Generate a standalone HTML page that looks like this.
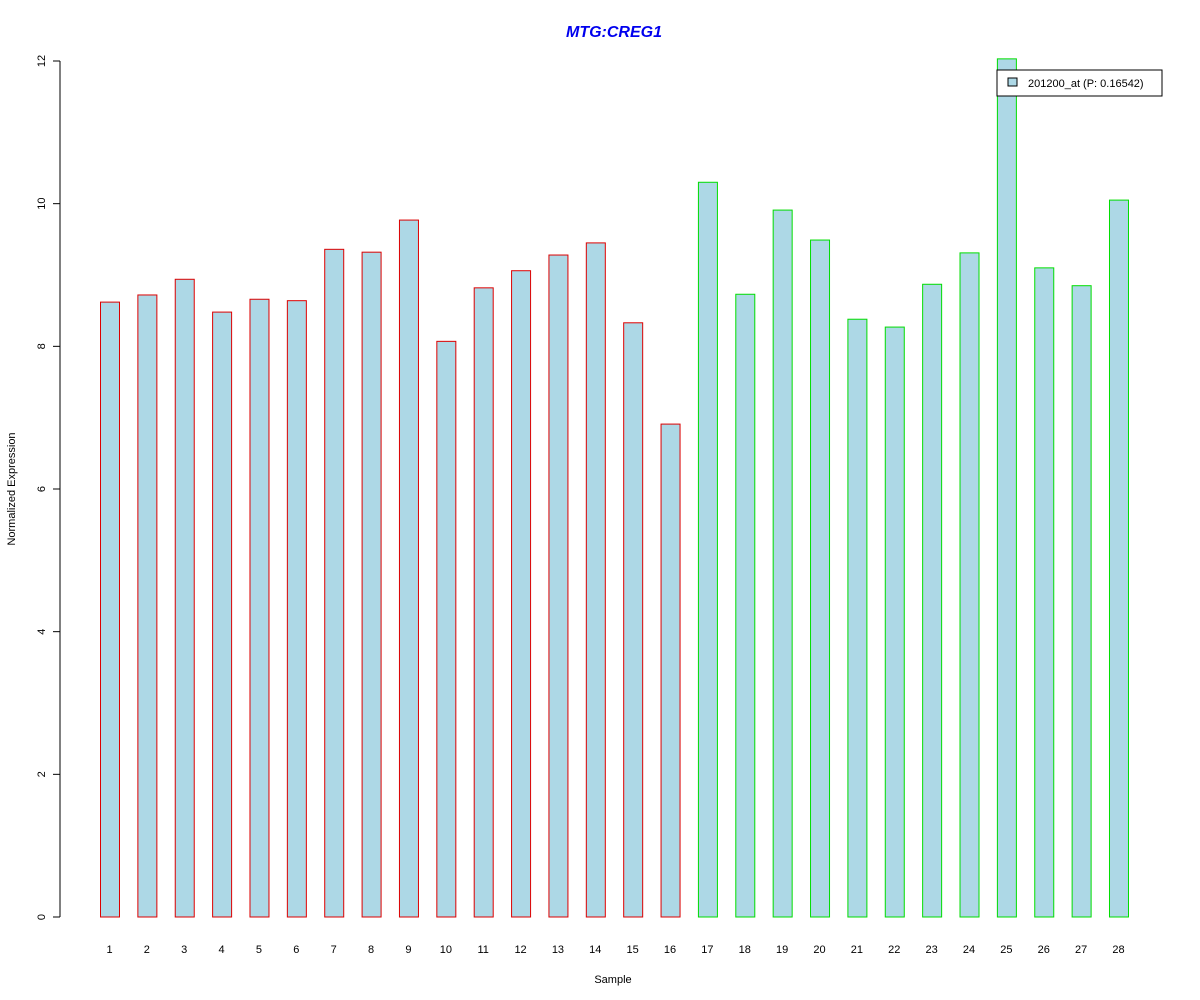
<!DOCTYPE html>
<html><head><meta charset="utf-8"><style>
body{margin:0;background:#fff}
svg{display:block;font-family:"Liberation Sans",Arial,sans-serif}
</style></head><body>
<svg id="chart" width="1200" height="1000">
<text x="614" y="37" text-anchor="middle" font-size="16" font-weight="bold" font-style="italic" fill="#0000ee">MTG:CREG1</text>
<text transform="translate(15,489) rotate(-90)" text-anchor="middle" font-size="11">Normalized Expression</text>
<text x="613" y="983" text-anchor="middle" font-size="11">Sample</text>
<g id="yaxis"></g>
<g id="bars"></g>
<g id="xlabels"></g>
<g>
<rect x="997" y="70" width="165" height="26" fill="#fff" stroke="#000"/>
<rect x="1008" y="78" width="9" height="8" fill="#add8e6" stroke="#000"/>
<text x="1028" y="87" font-size="11">201200_at (P: 0.16542)</text>
</g>
</svg>
<script>
const categories=["1","2","3","4","5","6","7","8","9","10","11","12","13","14","15","16","17","18","19","20","21","22","23","24","25","26","27","28"];
const values=[8.62,8.72,8.94,8.48,8.66,8.64,9.36,9.32,9.77,8.07,8.82,9.06,9.28,9.45,8.33,6.91,10.30,8.73,9.91,9.49,8.38,8.27,8.87,9.31,12.03,9.10,8.85,10.05];
const groups=[1,1,1,1,1,1,1,1,1,1,1,1,1,1,1,1,2,2,2,2,2,2,2,2,2,2,2,2];
const yTicks=[0,2,4,6,8,10,12];
const NS="http://www.w3.org/2000/svg";
const y0=917,yTop=61,yMax=12;
const y=v=>y0-(v/yMax)*(y0-yTop);
const x=i=>100+i*37.37;
const bw=19;
function mk(t,a,p){const e=document.createElementNS(NS,t);for(const k in a)e.setAttribute(k,a[k]);p.appendChild(e);return e;}
const ya=document.getElementById('yaxis');
const al=mk('line',{x1:60,x2:60,y1:y(0),y2:y(yMax),stroke:'#000'},ya);


yTicks.forEach(t=>{
 const l=mk('line',{x1:53,x2:60,y1:y(t),y2:y(t),stroke:'#000'},ya);
 
 
 const tx=mk('text',{transform:`translate(45,${y(t)}) rotate(-90)`,'text-anchor':'middle','font-size':11},ya);
 tx.textContent=t;
 
 
});
const bg=document.getElementById('bars'),xg=document.getElementById('xlabels');
values.forEach((v,i)=>{
 const r=mk('rect',{x:x(i)+0.5,y:y(v),width:bw,height:y(0)-y(v),fill:'#add8e6',stroke:groups[i]===1?'#dd0000':'#00dd00'},bg);
 
 
 const t=mk('text',{x:x(i)+bw/2,y:953,'text-anchor':'middle','font-size':11},xg);
 t.textContent=categories[i];
 
 
});
</script>
</body></html>
